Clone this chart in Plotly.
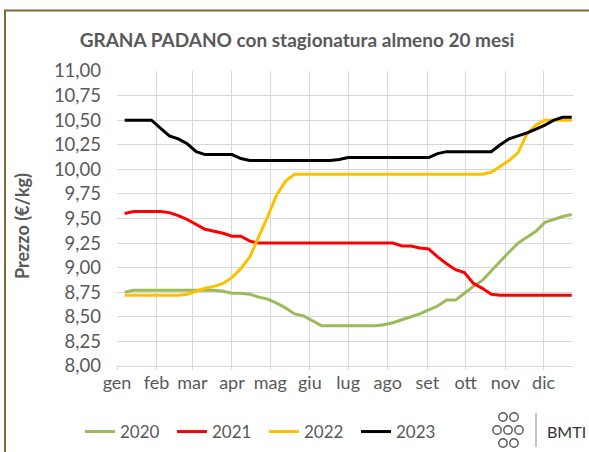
import plotly.graph_objects as go

# ---- data -------------------------------------------------------------
month_labels = ["gen", "feb", "mar", "apr", "mag", "giu", "lug", "ago", "set", "ott", "nov", "dic"]
month_start_day = [0, 31, 59, 90, 120, 151, 181, 212, 243, 273, 304, 334]
# weekly quotations (day of year of each week)
week_day = [6 + 7 * k for k in range(51)]

p2020 = [8.75, 8.77, 8.77, 8.77, 8.77, 8.77, 8.77, 8.77, 8.77, 8.77,
         8.77, 8.76, 8.74, 8.74, 8.73, 8.70, 8.68, 8.64, 8.59, 8.53,
         8.51, 8.46, 8.41, 8.41, 8.41, 8.41, 8.41, 8.41, 8.41, 8.42,
         8.44, 8.47, 8.50, 8.53, 8.57, 8.61, 8.67, 8.67, 8.74, 8.81,
         8.87, 8.97, 9.07, 9.16, 9.25, 9.31, 9.37, 9.46, 9.49, 9.52,
         9.54]
p2021 = [9.55, 9.57, 9.57, 9.57, 9.57, 9.56, 9.53, 9.49, 9.44, 9.39,
         9.37, 9.35, 9.32, 9.32, 9.27, 9.25, 9.25, 9.25, 9.25, 9.25,
         9.25, 9.25, 9.25, 9.25, 9.25, 9.25, 9.25, 9.25, 9.25, 9.25,
         9.25, 9.22, 9.22, 9.20, 9.19, 9.11, 9.04, 8.98, 8.95, 8.84,
         8.79, 8.73, 8.72, 8.72, 8.72, 8.72, 8.72, 8.72, 8.72, 8.72,
         8.72]
p2022 = [8.72, 8.72, 8.72, 8.72, 8.72, 8.72, 8.72, 8.73, 8.76, 8.79,
         8.81, 8.84, 8.90, 8.99, 9.11, 9.31, 9.52, 9.74, 9.88, 9.95,
         9.95, 9.95, 9.95, 9.95, 9.95, 9.95, 9.95, 9.95, 9.95, 9.95,
         9.95, 9.95, 9.95, 9.95, 9.95, 9.95, 9.95, 9.95, 9.95, 9.95,
         9.95, 9.97, 10.03, 10.09, 10.17, 10.36, 10.45, 10.50, 10.50, 10.50,
         10.50]
p2023 = [10.50, 10.50, 10.50, 10.50, 10.42, 10.34, 10.31, 10.26, 10.18, 10.15,
         10.15, 10.15, 10.15, 10.11, 10.09, 10.09, 10.09, 10.09, 10.09, 10.09,
         10.09, 10.09, 10.09, 10.09, 10.10, 10.12, 10.12, 10.12, 10.12, 10.12,
         10.12, 10.12, 10.12, 10.12, 10.12, 10.16, 10.18, 10.18, 10.18, 10.18,
         10.18, 10.18, 10.25, 10.31, 10.34, 10.37, 10.41, 10.45, 10.50, 10.53,
         10.53]

series_names = ["2020", "2021", "2022", "2023"]
series_values = [p2020, p2021, p2022, p2023]
series_colors = ["#9bbb59", "#ff0000", "#ffc000", "#000000"]

# ---- layout geometry (pixels) ------------------------------------------
W, H = 589, 452
L, R, T, B = 117, 16, 71, 86
PW, PH = W - L - R, H - T - B


def px(x):
    return (x - L) / PW


def py(y):
    return (H - B - y) / PH


TXT = "#595959"
GRID = "#d9d9d9"
FONT = "Lato, Carlito, Calibri, sans-serif"

fig = go.Figure()
for name, vals, col in zip(series_names, series_values, series_colors):
    fig.add_trace(go.Scatter(x=week_day, y=vals, mode="lines", name=name,
                             line=dict(color=col, width=3)))

fig.update_layout(
    width=W, height=H,
    margin=dict(l=L, r=R, t=T, b=B, autoexpand=False),
    paper_bgcolor="white", plot_bgcolor="white",
    separators=",.",
    font=dict(family=FONT, color=TXT, size=17),
    title=dict(text="<b>GRANA PADANO con stagionatura almeno 20 mesi</b>",
               xref="container", yref="container", x=297 / W, y=1 - 40 / H,
               xanchor="center", yanchor="middle",
               font=dict(size=19, color=TXT, family=FONT)),
    xaxis=dict(range=[0, 357], tickmode="array", tickvals=month_start_day,
               ticktext=month_labels, showgrid=True, gridcolor=GRID, gridwidth=1,
               ticks="outside", ticklen=3, tickcolor=GRID, ticklabelstandoff=-3,
               showline=True, linecolor=GRID, zeroline=False,
               tickfont=dict(size=18, color=TXT)),
    yaxis=dict(range=[8, 11], tick0=8, dtick=0.25, tickformat=".2f",
               showgrid=True, gridcolor=GRID, gridwidth=1, zeroline=False,
               ticks="", ticklabelstandoff=15,
               tickfont=dict(size=18.5, color=TXT)),
    legend=dict(orientation="h", x=px(80), y=py(432), xanchor="left", yanchor="middle",
                font=dict(size=17, color=TXT), itemwidth=30, entrywidth=47,
                bgcolor="rgba(0,0,0,0)"),
    showlegend=True,
)

annotations = [
    dict(text="<b>Prezzo (€/kg)</b>", textangle=-90, xref="paper", yref="paper",
         x=px(22), y=py(226), xanchor="center", yanchor="middle", showarrow=False,
         font=dict(size=18, color=TXT, family=FONT)),
    dict(text="BMTI", xref="paper", yref="paper", x=px(545), y=py(431),
         xanchor="left", yanchor="middle", showarrow=False,
         font=dict(size=16, color="#333333", family=FONT)),
]

shapes = [
    # outer frame of the chart area (cropped on right/bottom)
    dict(type="rect", xref="paper", yref="paper", x0=px(5), x1=px(640), y0=py(480), y1=py(10.5),
         line=dict(color="#7f6b35", width=2), fillcolor="rgba(0,0,0,0)", layer="below"),
    # logo separator
    dict(type="line", xref="paper", yref="paper", x0=px(536), x1=px(536), y0=py(447), y1=py(413),
         line=dict(color="#8c8c8c", width=1)),
]
# logo swirls (approximation)
for cx, cy in [(503, 417), (514, 417), (497, 430), (508, 430), (519, 430), (503, 443), (514, 443)]:
    r = 4.2
    shapes.append(dict(type="circle", xref="paper", yref="paper",
                       x0=px(cx - r), x1=px(cx + r), y0=py(cy + r), y1=py(cy - r),
                       line=dict(color="#555555", width=1.4)))

fig.update_layout(annotations=annotations, shapes=shapes)
fig.write_html("out.html", config={"displayModeBar": False},
               post_script="document.body.style.margin='0';document.body.style.overflow='hidden';")
